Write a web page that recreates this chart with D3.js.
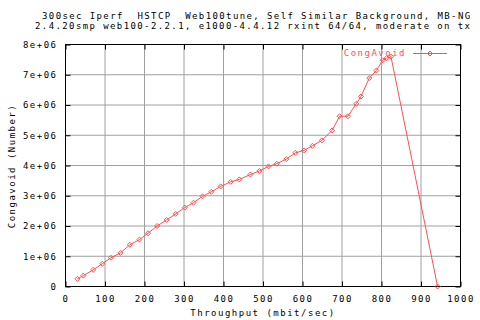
<!DOCTYPE html>
<html><head><meta charset="utf-8">
<script src="https://cdn.jsdelivr.net/npm/d3@7"></script>
<style>
body{margin:0;background:#fff;}
text{font-family:"DejaVu Sans Mono",monospace;font-size:9px;letter-spacing:1.5px;fill:#000;white-space:pre;}
</style></head><body>
<svg id="c" width="480" height="320"></svg>
<script>
const titleLines = ["300sec Iperf  HSTCP  Web100tune, Self Similar Background, MB-NG",
  "2.4.20smp web100-2.2.1, e1000-4.4.12 rxint 64/64, moderate on tx"];
const xLabel = "Throughput (mbit/sec)";
const yLabel = "Congavoid (Number)";
const seriesName = "CongAvoid";
const xTicks = [0,100,200,300,400,500,600,700,800,900,1000];
const yTicks = [0,1e6,2e6,3e6,4e6,5e6,6e6,7e6,8e6];
const yTickLabels = ["0","1e+06","2e+06","3e+06","4e+06","5e+06","6e+06","7e+06","8e+06"];
const throughput = [30,45,70,93,115,139,163,187,209,232,256,279,302,324,347,369,393,418,440,468,491,514,535,559,582,604,625,649,675,694,715,736,748,769,787,803,813,824,942];
const congavoid = [0.25,0.36,0.55,0.75,0.95,1.11,1.38,1.55,1.76,2.0,2.2,2.4,2.61,2.77,2.98,3.13,3.31,3.46,3.54,3.70,3.82,3.97,4.06,4.21,4.42,4.50,4.65,4.83,5.16,5.63,5.63,6.04,6.28,6.89,7.14,7.48,7.55,7.6,0].map(v=>v*1e6);

(function(){
const svg = d3.select("#c");
const L=65.5, R=460.5, T=44.5, B=286.5;
const x = d3.scaleLinear().domain([0,1000]).range([L,R]);
const y = d3.scaleLinear().domain([0,8e6]).range([B,T]);
const red = "#ff5050";

const g = svg.append("g");
g.selectAll(".gx").data(xTicks.slice(1,-1)).enter().append("line")
 .attr("x1",d=>x(d)).attr("x2",d=>x(d)).attr("y1",T).attr("y2",B)
 .attr("stroke","#a0a0a0").attr("stroke-width",1);
g.selectAll(".gy").data(yTicks.slice(1,-1)).enter().append("line")
 .attr("y1",d=>y(d)).attr("y2",d=>y(d)).attr("x1",L).attr("x2",R)
 .attr("stroke","#a0a0a0").attr("stroke-width",1);

const ax = svg.append("g");
const axB = ax.append("g").attr("transform",`translate(0,${B})`)
 .call(d3.axisBottom(x).tickValues(xTicks).tickSize(-5).tickPadding(7).tickFormat(d3.format("d")));
ax.append("g").attr("transform",`translate(0,${T})`)
 .call(d3.axisTop(x).tickValues(xTicks).tickSize(-5).tickFormat(""));
ax.append("g").attr("transform",`translate(${L},0)`)
 .call(d3.axisLeft(y).tickValues(yTicks).tickSize(-5).tickPadding(8).tickFormat((d,i)=>yTickLabels[i]));
ax.append("g").attr("transform",`translate(${R},0)`)
 .call(d3.axisRight(y).tickValues(yTicks).tickSize(-5).tickFormat(""));
ax.selectAll(".domain").remove();
ax.selectAll(".tick line").attr("stroke","#000");
ax.selectAll("text").attr("font-family",null).attr("font-size",null).attr("fill","#000");
axB.selectAll("text").attr("dy","0.9em");
svg.append("rect").attr("x",L).attr("y",T).attr("width",R-L).attr("height",B-T)
 .attr("fill","none").attr("stroke","#000").attr("stroke-width",1);

const pts = throughput.map((v,i)=>[v,congavoid[i]]);
svg.append("path").datum(pts)
 .attr("d",d3.line().x(d=>x(d[0])).y(d=>y(d[1])))
 .attr("fill","none").attr("stroke",red).attr("stroke-width",1);
const diamond = (cx,cy)=>`M${cx},${cy-2.5}L${cx+2.5},${cy}L${cx},${cy+2.5}L${cx-2.5},${cy}Z`;
svg.selectAll(".pt").data(pts).enter().append("path")
 .attr("d",d=>diamond(x(d[0]),y(d[1])))
 .attr("fill","none").attr("stroke",red).attr("stroke-width",1);

svg.append("text").attr("x",406).attr("y",56).attr("text-anchor","end").style("fill",red).text(seriesName);
svg.append("line").attr("x1",413).attr("x2",447).attr("y1",53.5).attr("y2",53.5).attr("stroke",red);
svg.append("path").attr("d",diamond(430,53.5)).attr("fill","none").attr("stroke",red);

svg.append("text").attr("x",42).attr("y",18.5).style("letter-spacing","1.4px").text(titleLines[0]);
svg.append("text").attr("x",35).attr("y",28.5).style("letter-spacing","1.4px").text(titleLines[1]);
svg.append("text").attr("x",263).attr("y",316).attr("text-anchor","middle").text(xLabel);
svg.append("text").attr("transform","translate(15,166) rotate(-90)").attr("text-anchor","middle").text(yLabel);
})();
</script>
</body></html>
